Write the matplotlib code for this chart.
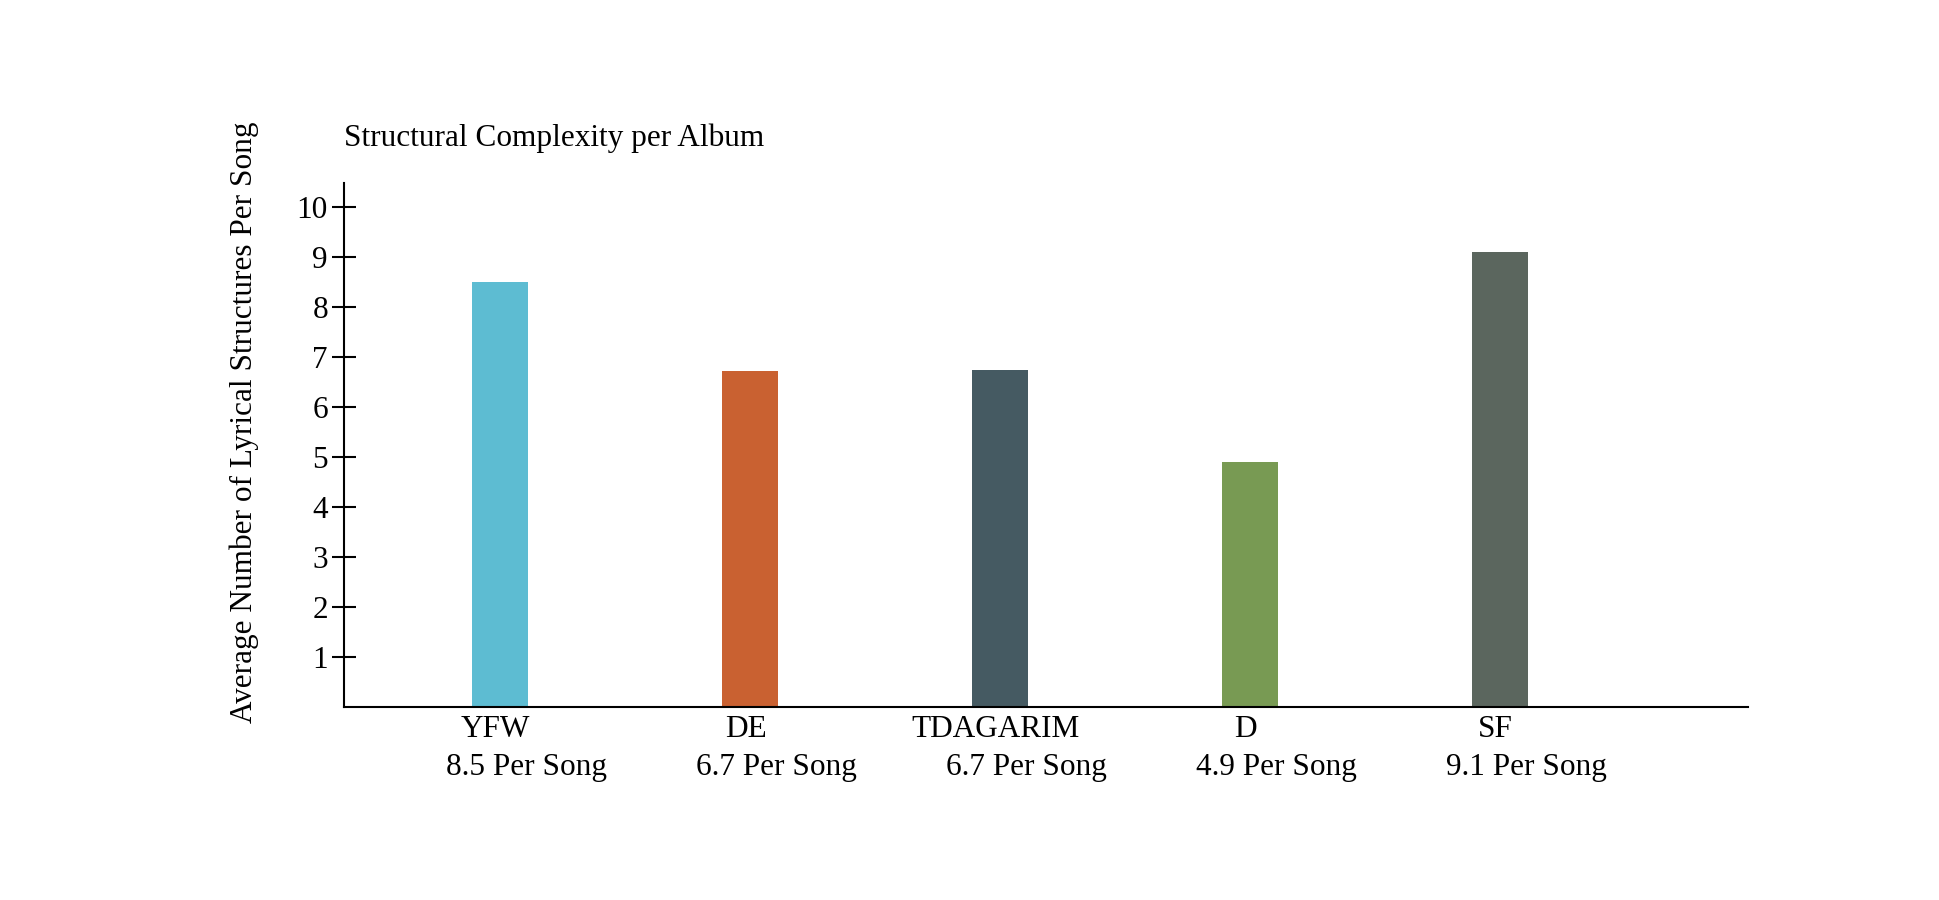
import matplotlib
matplotlib.use("Agg")
import matplotlib.pyplot as plt

plt.rcParams['font.family'] = ['Liberation Serif', 'DejaVu Serif']

# Data
albums = ["YFW", "DE", "TDAGARIM", "D", "SF"]
avg_structures = [8.5, 6.72, 6.74, 4.9, 9.1]
bar_colors = ["#5DBCD2", "#C96131", "#455A62", "#789A53", "#5B665E"]
y_ticks = [1, 2, 3, 4, 5, 6, 7, 8, 9, 10]

FONT = 22.5  # about 31px at 100 dpi

fig = plt.figure(figsize=(19.4, 9.0), dpi=100)
ax = fig.add_axes([0.1773, 0.2144, 0.7237, 0.5823])

positions = list(range(len(albums)))
ax.bar(positions, avg_structures, width=0.226, color=bar_colors)

ax.set_xlim(-0.624, 4.992)
ax.set_ylim(0, 10.48)

# spines: only left and bottom, black
for side in ["top", "right"]:
    ax.spines[side].set_visible(False)
for side in ["left", "bottom"]:
    ax.spines[side].set_linewidth(1.5)
    ax.spines[side].set_color("black")

ax.set_yticks(y_ticks)
ax.set_yticklabels([str(t) for t in y_ticks], fontsize=FONT)
ax.tick_params(axis="y", direction="inout", length=17, width=1.5, pad=3)
ax.set_xticks([])

# two-line category labels, second line shifted right like the original
for i, (name, val) in enumerate(zip(albums, avg_structures)):
    ax.annotate(name, xy=(i, 0), xycoords=("data", "axes fraction"),
                xytext=(-3, -21.5), textcoords="offset points",
                ha="center", va="baseline", fontsize=FONT)
    ax.annotate(f"{val:.1f} Per Song", xy=(i, 0), xycoords=("data", "axes fraction"),
                xytext=(19, -49), textcoords="offset points",
                ha="center", va="baseline", fontsize=FONT)

fig.text(344 / 1940, 1 - 146 / 900, "Structural Complexity per Album",
         ha="left", va="baseline", fontsize=FONT)
fig.text(244 / 1940, 1 - 422 / 900, "Average Number of Lyrical Structures Per Song",
         ha="center", va="center", rotation=90, fontsize=FONT)

fig.savefig("out.png", dpi=100, facecolor="white")
plt.close(fig)
